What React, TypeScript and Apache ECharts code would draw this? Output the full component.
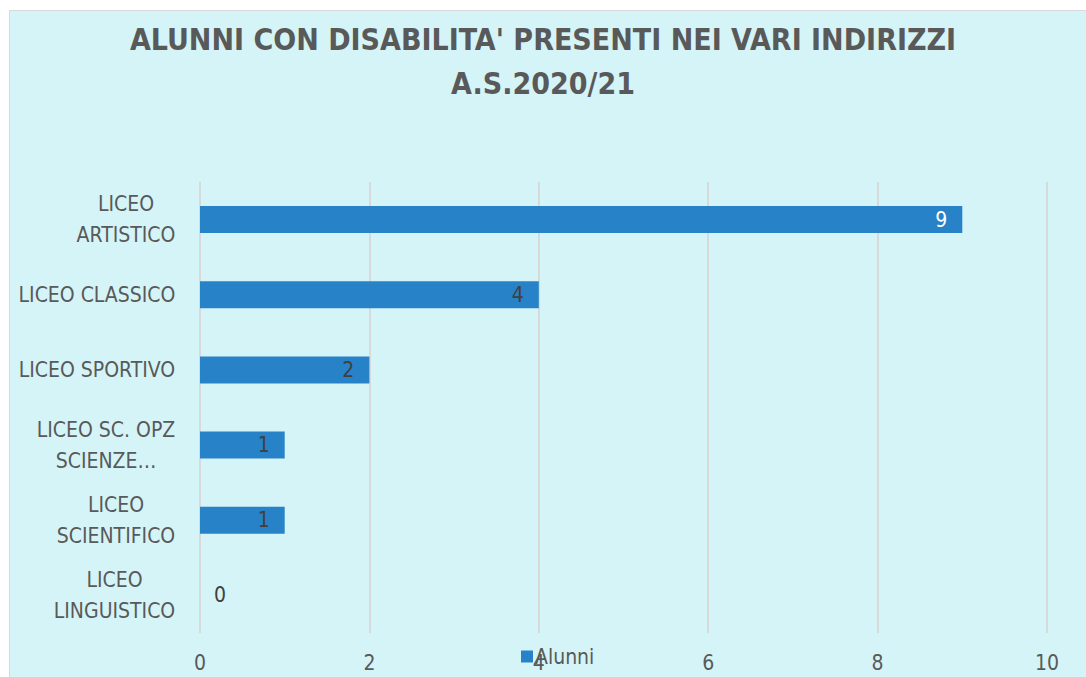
import React, { useEffect, useRef } from "react";
import * as echarts from "echarts";

const TITLE_LINES = ["ALUNNI CON DISABILITA' PRESENTI NEI VARI INDIRIZZI", "A.S.2020/21"];
const categories = [
  "LICEO\nARTISTICO",
  "LICEO CLASSICO",
  "LICEO SPORTIVO",
  "LICEO SC. OPZ\nSCIENZE…",
  "LICEO\nSCIENTIFICO",
  "LICEO\nLINGUISTICO",
];
const alunni = [9, 4, 2, 1, 1, 0];
const seriesName = "Alunni";
const xTicks = { min: 0, max: 10, interval: 2 };

const FONT = "'Liberation Sans Narrow', 'DejaVu Sans Condensed', 'Noto Sans', sans-serif";
const LABEL_SIZE = 21;

function measure(text: string, size: number, family: string): number {
  const c = document.createElement("canvas");
  const ctx = c.getContext("2d");
  if (!ctx) return text.length * size * 0.5;
  ctx.font = `${size}px ${family}`;
  return ctx.measureText(text).width;
}

export default function App() {
  const ref = useRef<HTMLDivElement>(null);
  useEffect(() => {
    if (!ref.current) return;
    const chart = echarts.init(ref.current, undefined, { renderer: "svg" });
    const rich: Record<string, any> = {};
    categories.forEach((c, i) => {
      const w = Math.max(...c.split("\n").map((l) => measure(l, LABEL_SIZE, FONT)));
      rich["l" + i] = {
        width: Math.ceil(w) + 1,
        align: "center",
        fontSize: LABEL_SIZE,
        fontFamily: FONT,
        color: "#595959",
        lineHeight: 31,
      };
    });
    const maxV = Math.max(...alunni);
    chart.setOption({
      animation: false,
      backgroundColor: "#ffffff",
      graphic: [
        {
          type: "rect",
          shape: { x: 9.5, y: 10.5, width: 1100, height: 700 },
          style: { fill: "#d4f4f7", stroke: "#d9d9d9", lineWidth: 1 },
          z: -10,
          silent: true,
        },
      ],
      title: {
        text: TITLE_LINES.join("\n"),
        left: "center",
        top: 17,
        padding: [0, 12, 0, 0],
        textStyle: {
          fontFamily: FONT,
          fontWeight: "bold",
          fontSize: 30,
          lineHeight: 44,
          color: "#595959",
        },
      },
      legend: {
        left: 516,
        top: 641,
        itemWidth: 12,
        itemHeight: 12,
        itemGap: 10,
        icon: "rect",
        textStyle: { fontFamily: FONT, fontSize: LABEL_SIZE, color: "#595959", padding: [0, 0, 0, -3] },
        data: [seriesName],
      },
      grid: { left: 200, right: 39, top: 182, bottom: 44, containLabel: false },
      xAxis: {
        type: "value",
        min: xTicks.min,
        max: xTicks.max,
        interval: xTicks.interval,
        axisLine: { show: false },
        axisTick: { show: false },
        splitLine: { show: true, lineStyle: { color: "#d9d9d9", width: 2 } },
        axisLabel: { fontFamily: FONT, fontSize: LABEL_SIZE, color: "#595959", margin: 19 },
      },
      yAxis: {
        type: "category",
        inverse: true,
        data: categories,
        axisLine: { show: false },
        axisTick: { show: false },
        splitLine: { show: false },
        axisLabel: {
          margin: 24,
          formatter: (v: string, i: number) =>
            v
              .split("\n")
              .map((l) => `{l${i}|${l}}`)
              .join("\n"),
          rich,
        },
      },
      series: [
        {
          name: seriesName,
          type: "bar",
          barWidth: 27,
          itemStyle: { color: "#2882c8" },
          label: {
            show: true,
            position: "insideRight",
            distance: 15,
            fontFamily: FONT,
            fontSize: LABEL_SIZE,
            color: "#404040",
          },
          data: alunni.map((v) =>
            v === 0
              ? { value: v, label: { position: "right", distance: 14 } }
              : v === maxV
              ? { value: v, label: { color: "#ffffff" } }
              : v
          ),
        },
      ],
    });
    return () => chart.dispose();
  }, []);
  return (
    <div
      ref={ref}
      style={{ position: "fixed", left: 0, top: 0, width: 1086, height: 677 }}
    />
  );
}
